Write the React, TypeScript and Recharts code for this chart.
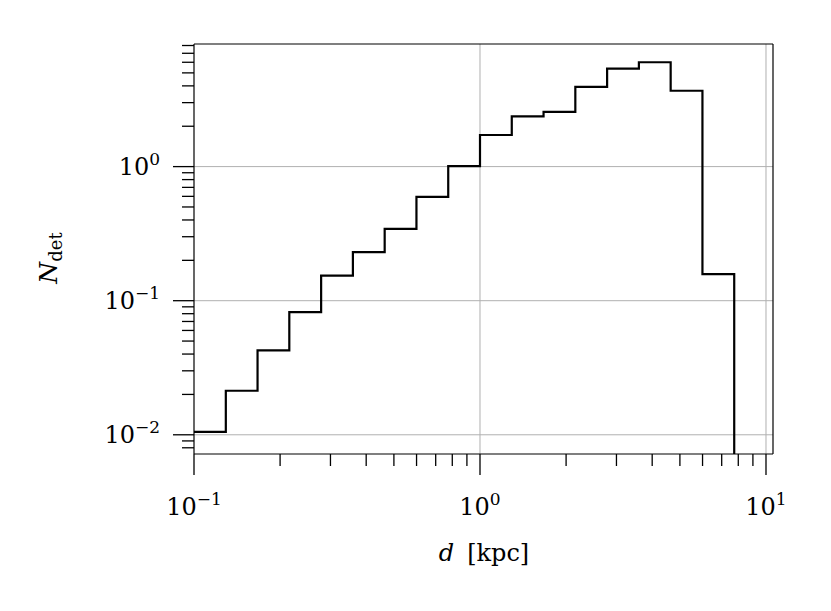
import React from "react";
import { LineChart, Line, XAxis, YAxis, ReferenceLine } from "recharts";

// Bin edges (kpc), 9 log bins per decade
const binEdges = [
  0.1, 0.1292, 0.1668, 0.2154, 0.2783, 0.3594, 0.4642, 0.5995, 0.7743,
  1.0, 1.2915, 1.6681, 2.1544, 2.7826, 3.5938, 4.6416, 5.9948, 7.7426,
];
// Detections per bin
const binCounts = [
  0.0105, 0.0213, 0.0426, 0.0822, 0.154, 0.23, 0.343, 0.594, 1.01,
  1.72, 2.37, 2.56, 3.93, 5.37, 6.0, 3.68, 0.158,
];
const FLOOR = 1e-4;

const xTicks = [
  0.1, 0.2, 0.3, 0.4, 0.5, 0.6, 0.7, 0.8, 0.9,
  1, 2, 3, 4, 5, 6, 7, 8, 9, 10,
];
const yTicks = [
  0.008, 0.009,
  0.01, 0.02, 0.03, 0.04, 0.05, 0.06, 0.07, 0.08, 0.09,
  0.1, 0.2, 0.3, 0.4, 0.5, 0.6, 0.7, 0.8, 0.9,
  1, 2, 3, 4, 5, 6, 7, 8,
];
const gridX = [1, 10];
const gridY = [0.01, 0.1, 1];

const X_DOMAIN: [number, number] = [0.1, 10.58];
const Y_DOMAIN: [number, number] = [0.00719, 8.21];

const data = binEdges.map((e, i) => ({
  d: e,
  n: i < binCounts.length ? binCounts[i] : FLOOR,
}));

const FONT = "'DejaVu Serif', serif";

const decadeExp = (v: number) => {
  const l = Math.log10(v);
  const r = Math.round(l);
  return Math.abs(l - r) < 1e-9 ? r : null;
};
const expText = (e: number) => (e < 0 ? "\u2212" + Math.abs(e) : String(e));

const XTick = (props: any) => {
  const { x, y, payload } = props;
  const e = decadeExp(payload.value);
  const major = e !== null;
  return (
    <g>
      <line x1={x} x2={x} y1={y} y2={y + (major ? 21 : 12)} stroke="#000" strokeWidth={1.3} />
      {major && (
        <text x={x} y={y + 61} textAnchor="middle" fontFamily={FONT} fontSize={24} fill="#000">
          10
          <tspan dy={-10} fontSize={17}>{expText(e as number)}</tspan>
        </text>
      )}
    </g>
  );
};

const YTick = (props: any) => {
  const { x, y, payload } = props;
  const e = decadeExp(payload.value);
  const major = e !== null;
  return (
    <g>
      <line x1={x} x2={x - (major ? 21 : 12)} y1={y} y2={y} stroke="#000" strokeWidth={1.3} />
      {major && (
        <text x={x - 34} y={y + 8.5} textAnchor="end" fontFamily={FONT} fontSize={24} fill="#000">
          10
          <tspan dy={-10} fontSize={17}>{expText(e as number)}</tspan>
        </text>
      )}
    </g>
  );
};

export default function App() {
  return (
    <div style={{ width: 815, height: 595, position: "relative" }}>
      <LineChart
        width={815}
        height={595}
        data={data}
        margin={{ top: 36, right: 50, left: 0, bottom: 0 }}
      >
        <XAxis
          dataKey="d"
          type="number"
          scale="log"
          domain={X_DOMAIN}
          allowDataOverflow
          ticks={xTicks}
          interval={0}
          tickLine={false}
          tickSize={0}
          tickMargin={0}
          tick={<XTick />}
          height={149}
          axisLine={{ stroke: "#000", strokeWidth: 1.2 }}
        />
        <YAxis
          type="number"
          scale="log"
          domain={Y_DOMAIN}
          allowDataOverflow
          ticks={yTicks}
          interval={0}
          tickLine={false}
          tickSize={0}
          tickMargin={0}
          tick={<YTick />}
          width={186}
          axisLine={{ stroke: "#000", strokeWidth: 1.2 }}
        />
        {gridX.map((v) => (
          <ReferenceLine key={"gx" + v} x={v} stroke="#b0b0b0" strokeWidth={1} />
        ))}
        {gridY.map((v) => (
          <ReferenceLine key={"gy" + v} y={v} stroke="#b0b0b0" strokeWidth={1} />
        ))}
        <ReferenceLine x={X_DOMAIN[1]} stroke="#000" strokeWidth={1.2} />
        <ReferenceLine y={Y_DOMAIN[1]} stroke="#000" strokeWidth={1.2} />
        <Line
          dataKey="n"
          type="stepAfter"
          stroke="#000"
          strokeWidth={2.2}
          dot={false}
          activeDot={false}
          isAnimationActive={false}
        />
      </LineChart>
      <svg
        width={815}
        height={595}
        style={{ position: "absolute", left: 0, top: 0, pointerEvents: "none" }}
      >
        <text x={476} y={553} textAnchor="middle" fontFamily={FONT} fontSize={24} fill="#000">
          <tspan fontStyle="italic">d</tspan>
          <tspan dx={13}>[kpc]</tspan>
        </text>
        <text
          x={49}
          y={250}
          textAnchor="middle"
          fontFamily={FONT}
          fontSize={25}
          fill="#000"
          transform="rotate(-90 49 250)"
        >
          <tspan fontStyle="italic">N</tspan>
          <tspan dy={5} fontSize={18}>det</tspan>
        </text>
      </svg>
    </div>
  );
}
